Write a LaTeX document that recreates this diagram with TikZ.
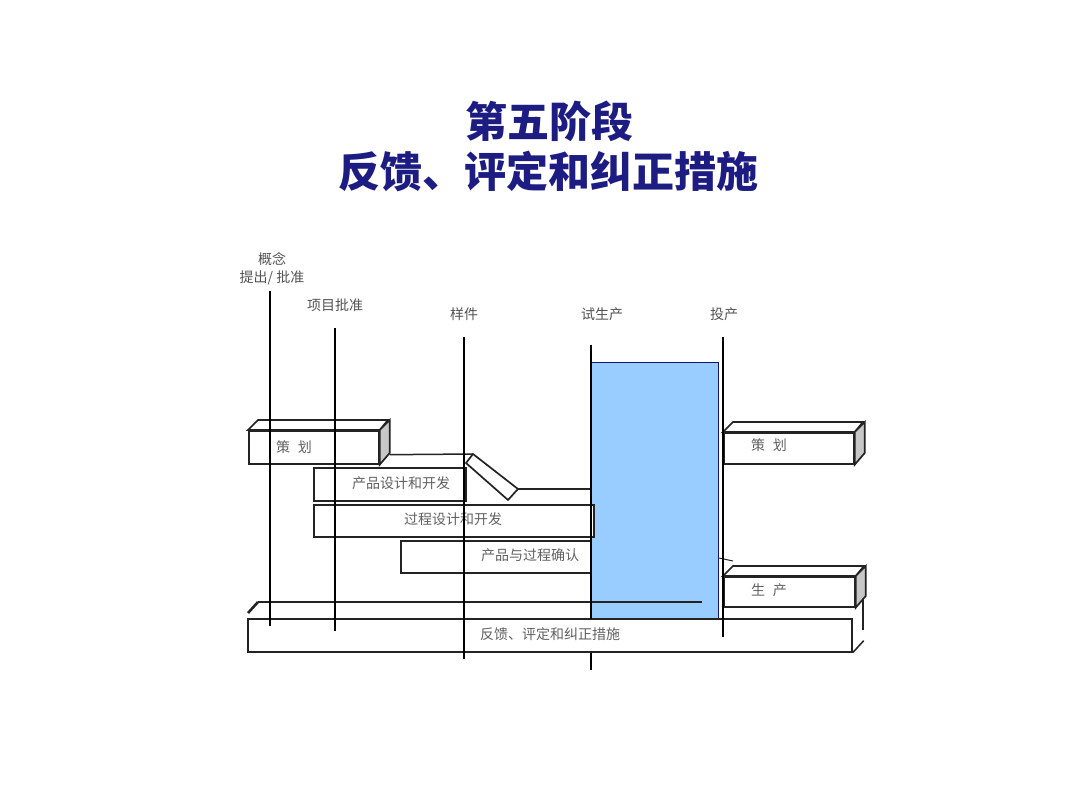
\documentclass[tikz,border=0pt]{standalone}
\usepackage{fontspec}
\newfontfamily\cjk{Noto Sans CJK SC}
\definecolor{titleblue}{RGB}{28,28,130}
\definecolor{trialblue}{RGB}{153,204,255}
\definecolor{edge}{RGB}{35,35,35}
\begin{document}
\begin{tikzpicture}[x=1pt,y=-1pt,
  ln/.style={line width=2.9pt, black},
  bx/.style={draw=edge, line width=1.7pt, fill=white},
  side/.style={draw=edge, line width=1.7pt, fill=black!22},
  thin/.style={draw=edge, line width=1.5pt},
  lbl/.style={font=\cjk\fontsize{14}{18}\selectfont, text=black!68, inner sep=0pt},
  btxt/.style={font=\cjk\fontsize{14}{16}\selectfont, text=black!62, inner sep=0pt},
  ttl/.style={font=\cjk\bfseries\fontsize{42}{46}\selectfont, text=titleblue, inner sep=0pt}]
\useasboundingbox (0,0) rectangle (1080,810);

% title
\node[ttl] (t1) at (549,121) {第五阶段};
\node[ttl] (t2) at (548,171) {反馈、评定和纠正措施};

% milestone labels
\node[lbl, align=center] (c1) at (272,269) {概念\\提出/ 批准};
\node[lbl] (c2) at (335,305) {项目批准};
\node[lbl] (c3) at (464,314) {样件};
\node[lbl] (c4) at (602,314) {试生产};
\node[lbl] (c5) at (724,314) {投产};

% trial production block
\node[draw=titleblue!80!black, line width=1pt, fill=trialblue, anchor=north west,
      minimum width=127pt, minimum height=256pt, inner sep=0pt] (trial) at (591,362) {};

% feedback box (3D back edges)
\node[bx, anchor=north west, minimum width=604pt, minimum height=33pt, inner sep=0pt] (fb) at (247,618) {};
\node[btxt] (fbt) at (550,634) {反馈、评定和纠正措施};
\coordinate (fbtl) at (258,602);
\coordinate (fbtr) at (702,602);
\draw[thin] (fbtl) -- (fbtr);
\draw[line width=2.6pt, edge] (248,613) -- (fbtl);
\draw[thin] (863,598) -- (863,630);
\draw[thin] (fb.south east) -- ++(11,-12);

% left planning box
\node[bx, anchor=north west, minimum width=130pt, minimum height=33pt, inner sep=0pt] (p1) at (248,430) {};
\draw[bx] (p1.north west) -- ++(10,-10) -- ++(130,0) -- (p1.north east) -- cycle;
\draw[side] (p1.north east) -- ++(10,-10) -- ++(0,33) -- (p1.south east) -- cycle;
\node[btxt, anchor=west] (p1t) at ([xshift=28pt]p1.west) {策\hspace{0.55em}划};

% product design box
\node[bx, anchor=north west, minimum width=152pt, minimum height=33pt, inner sep=0pt] (pd) at (313,467) {};
\node[btxt] (pdt) at (401,483) {产品设计和开发};
\coordinate (b1) at (466,463);
\coordinate (b2) at (473,454);
\coordinate (b3) at (518,489);
\coordinate (b4) at (508,500);
\draw[thin] ([shift={(10,-10)}]p1.south east) -- (b2);
\draw[bx] (b1) -- (b2) -- (b3) -- (b4) -- cycle;
\draw[thin] (b3) -- (b3 -| trial.west);

% process design box
\node[bx, anchor=north west, minimum width=280pt, minimum height=32pt, inner sep=0pt] (ps) at (313,504) {};
\node[btxt] (pst) at (453,519) {过程设计和开发};

% validation box
\node[bx, anchor=north west, minimum width=190pt, minimum height=32pt, inner sep=0pt] (va) at (400,540) {};
\node[btxt] (vat) at (530,555) {产品与过程确认};

% right planning box
\node[bx, anchor=north west, minimum width=130pt, minimum height=31pt, inner sep=0pt] (p2) at (723,432) {};
\draw[bx] (p2.north west) -- ++(10,-10) -- ++(130,0) -- (p2.north east) -- cycle;
\draw[side] (p2.north east) -- ++(10,-10) -- ++(0,31) -- (p2.south east) -- cycle;
\node[btxt] (p2t) at (769,445) {策\hspace{0.55em}划};

% production box
\node[bx, anchor=north west, minimum width=131pt, minimum height=30pt, inner sep=0pt] (pr) at (723,576) {};
\draw[bx] (pr.north west) -- ++(10,-10) -- ++(131,0) -- (pr.north east) -- cycle;
\draw[side] (pr.north east) -- ++(10,-10) -- ++(0,30) -- (pr.south east) -- cycle;
\node[btxt] (prt) at (769,590) {生\hspace{0.55em}产};
\draw[thin, line width=1pt] (719,558) -- (733,561);

% milestone lines
\coordinate (m1t) at (270,291); \coordinate (m1b) at (270,626);
\coordinate (m2t) at (335,328); \coordinate (m2b) at (335,631);
\coordinate (m3t) at (464,337); \coordinate (m3b) at (464,659);
\coordinate (m4t) at (591,345); \coordinate (m4b) at (591,670);
\coordinate (m5t) at (723,337); \coordinate (m5b) at (723,637);
\draw[ln] (m1t) -- (m1b);
\draw[ln] (m2t) -- (m2b);
\draw[ln] (m3t) -- (m3b);
\draw[ln] (m4t) -- (m4t |- trial.south);
\draw[ln] (m4t |- fb.south) -- (m4b);
\draw[ln] (m5t) -- (m5b);
\end{tikzpicture}
\end{document}
